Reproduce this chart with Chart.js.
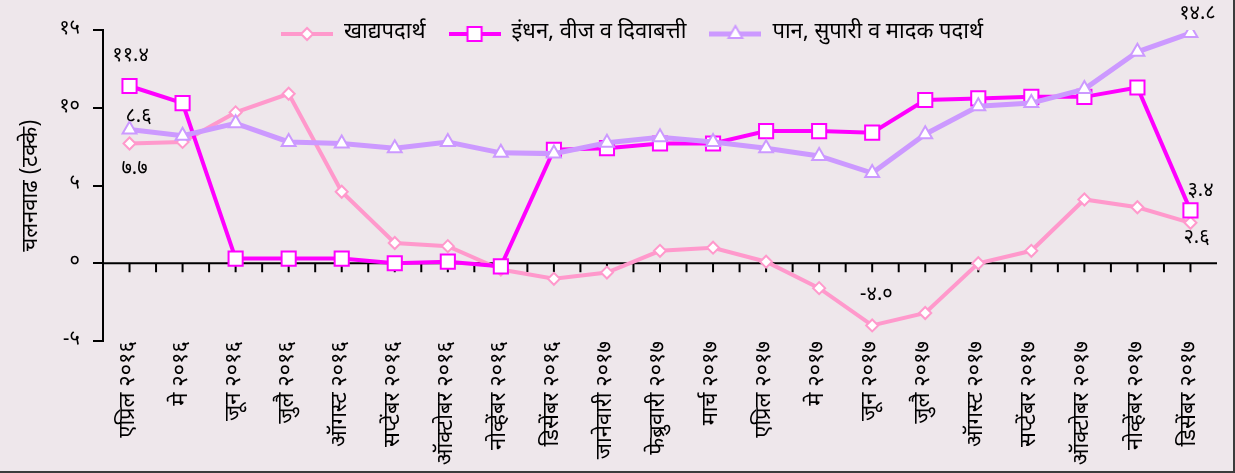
<!DOCTYPE html>
<html>
<head>
<meta charset="utf-8">
<script src="https://cdn.jsdelivr.net/npm/chart.js@4.4.0/dist/chart.umd.min.js"></script>
<style>
  html, body { margin: 0; padding: 0; background: #eee7eb; }
  #wrap { width: 1233px; height: 471px; border-right: 2px solid #3c3c3c; border-bottom: 2px solid #3c3c3c; }
</style>
</head>
<body>
<div id="wrap"><canvas id="my-chart" width="1233" height="471"></canvas></div>
<script>
// months on the x axis
var months = [
  'एप्रिल २०१६', 'मे २०१६', 'जून २०१६', 'जुलै २०१६', 'ऑगस्ट २०१६', 'सप्टेंबर २०१६',
  'ऑक्टोबर २०१६', 'नोव्हेंबर २०१६', 'डिसेंबर २०१६', 'जानेवारी २०१७', 'फेब्रुवारी २०१७',
  'मार्च २०१७', 'एप्रिल २०१७', 'मे २०१७', 'जून २०१७', 'जुलै २०१७', 'ऑगस्ट २०१७',
  'सप्टेंबर २०१७', 'ऑक्टोबर २०१७', 'नोव्हेंबर २०१७', 'डिसेंबर २०१७'
];
var seriesNames = ['खाद्यपदार्थ', 'इंधन, वीज व दिवाबत्ती', 'पान, सुपारी व मादक पदार्थ'];
var food = [7.7, 7.8, 9.7, 10.9, 4.6, 1.3, 1.1, -0.4, -1.0, -0.6, 0.8, 1.0, 0.1, -1.6, -4.0, -3.2, 0.0, 0.8, 4.1, 3.6, 2.6];
var fuel = [11.4, 10.3, 0.3, 0.3, 0.3, 0.0, 0.1, -0.2, 7.3, 7.4, 7.7, 7.7, 8.5, 8.5, 8.4, 10.5, 10.6, 10.7, 10.7, 11.3, 3.4];
var pan = [8.6, 8.2, 9.0, 7.8, 7.7, 7.4, 7.8, 7.1, 7.05, 7.75, 8.1, 7.8, 7.4, 6.9, 5.8, 8.3, 10.1, 10.3, 11.2, 13.6, 14.8];
var yMin = -5, yMax = 15, yStep = 5;
var yTitle = 'चलनवाढ (टक्के)';

// which points get a value written next to them
var noteSeries = [1, 2, 0, 0, 2, 1, 0];
var noteIndex = [0, 0, 0, 14, 20, 20, 20];
var noteDx = [1, 9, 5, 4, 7, 10, 6];
var noteDy = [-29, -11, 27, -29, -18, -18, 16];

var colors = ['#ff99cc', '#ff00ff', '#cc99ff'];
var devFont = "'Noto Sans Devanagari', 'Lohit Devanagari', 'Noto Serif Devanagari', 'Noto Sans', sans-serif";

function toDev(s) {
  var d = '०१२३४५६७८९';
  return String(s).replace(/[0-9]/g, function (c) { return d[+c]; });
}

// little line + marker picture for the legend
function legendIcon(color, width, style, radius) {
  var c = document.createElement('canvas');
  c.width = 52; c.height = 20;
  var g = c.getContext('2d');
  g.strokeStyle = color; g.lineWidth = width;
  g.beginPath(); g.moveTo(0, 10); g.lineTo(52, 10); g.stroke();
  g.fillStyle = '#fff'; g.lineWidth = 2;
  Chart.helpers.drawPoint(g, {pointStyle: style, radius: radius, borderWidth: 2, rotation: 0}, 26, 10);
  return c;
}
var icons = [
  legendIcon(colors[0], 4, 'rectRot', 6),
  legendIcon(colors[1], 4, 'rect', 10),
  legendIcon(colors[2], 5, 'triangle', 8)
];

var zeroAxis = {
  id: 'zeroAxis',
  beforeDatasetsDraw: function (chart) {
    var ctx = chart.ctx, xs = chart.scales.x, ys = chart.scales.y;
    var y0 = ys.getPixelForValue(0);
    ctx.save();
    ctx.strokeStyle = '#000';
    ctx.lineWidth = 2;
    ctx.beginPath();
    ctx.moveTo(chart.chartArea.left, y0);
    ctx.lineTo(chart.chartArea.right, y0);
    for (var i = 0; i < months.length; i++) {
      var px = xs.getPixelForValue(i);
      ctx.moveTo(px, y0); ctx.lineTo(px, y0 + 9);
      if (i < months.length - 1) {
        var mid = (px + xs.getPixelForValue(i + 1)) / 2;
        ctx.moveTo(mid, y0); ctx.lineTo(mid, y0 + 9);
      }
    }
    ctx.stroke();
    ctx.restore();
  }
};

var valueNotes = {
  id: 'valueNotes',
  afterDatasetsDraw: function (chart) {
    var ctx = chart.ctx;
    ctx.save();
    ctx.font = '20px ' + devFont;
    ctx.fillStyle = '#000';
    ctx.textAlign = 'center';
    ctx.textBaseline = 'middle';
    for (var k = 0; k < noteSeries.length; k++) {
      var ds = chart.data.datasets[noteSeries[k]];
      var pt = chart.getDatasetMeta(noteSeries[k]).data[noteIndex[k]];
      var v = ds.data[noteIndex[k]];
      ctx.fillText(toDev(v.toFixed(1)), pt.x + noteDx[k], pt.y + noteDy[k]);
    }
    ctx.restore();
  }
};

// center the legend row a little right of the canvas middle, and let it
// hang down into the plot without being clipped
var legendMove = {
  id: 'legendMove',
  beforeDraw: function (chart) {
    var lg = chart.legend;
    if (!lg) return;
    var w = lg.right - lg.left;
    lg.left = 632 - w / 2;
    lg.right = lg.left + w;
    lg.bottom = lg.top + 55;
  }
};

var ctx = document.getElementById('my-chart');
var chart = new Chart(ctx, {
  type: 'line',
  data: {
    labels: months,
    datasets: [
      {
        label: seriesNames[0], data: food, order: 3,
        borderColor: colors[0], borderWidth: 4, backgroundColor: '#fff',
        pointStyle: 'rectRot', pointRadius: 6, pointBorderWidth: 2,
        pointBorderColor: colors[0], pointBackgroundColor: '#fff'
      },
      {
        label: seriesNames[1], data: fuel, order: 2,
        borderColor: colors[1], borderWidth: 4, backgroundColor: '#fff',
        pointStyle: 'rect', pointRadius: 10, pointBorderWidth: 2,
        pointBorderColor: colors[1], pointBackgroundColor: '#fff'
      },
      {
        label: seriesNames[2], data: pan, order: 1,
        borderColor: colors[2], borderWidth: 5, backgroundColor: '#fff',
        pointStyle: 'triangle', pointRadius: 8, pointBorderWidth: 2,
        pointBorderColor: colors[2], pointBackgroundColor: '#fff'
      }
    ]
  },
  options: {
    responsive: false,
    animation: false,
    layout: { padding: { top: 0, right: 16, left: 0, bottom: 0 } },
    plugins: {
      tooltip: { enabled: false },
      legend: {
        position: 'top',
        align: 'center',
        maxHeight: 30,
        labels: {
          usePointStyle: true,
          pointStyleWidth: 52,
          padding: 23,
          color: '#000',
          font: { family: devFont, size: 22 },
          generateLabels: function (chart) {
            return chart.data.datasets.map(function (ds, i) {
              return {
                text: ds.label, pointStyle: icons[i], datasetIndex: i,
                fontColor: '#000', hidden: false, lineWidth: 0,
                strokeStyle: 'rgba(0,0,0,0)', fillStyle: 'rgba(0,0,0,0)'
              };
            });
          }
        }
      }
    },
    scales: {
      x: {
        offset: true,
        grid: { display: false, drawTicks: false },
        border: { display: false },
        ticks: {
          autoSkip: false, maxRotation: 90, minRotation: 90, padding: 0,
          color: '#000', font: { family: devFont, size: 22 }
        },
        afterFit: function (s) { s.height = 130; }
      },
      y: {
        min: yMin, max: yMax,
        grid: { drawOnChartArea: false, drawTicks: true, tickLength: 10, color: '#000', lineWidth: 2 },
        border: { display: true, color: '#000', width: 2 },
        ticks: {
          stepSize: yStep, padding: 13, color: '#000',
          font: { family: devFont, size: 20 },
          callback: function (v) { return toDev(v); }
        },
        title: {
          display: true, text: yTitle, color: '#000',
          font: { family: devFont, size: 22 }, padding: { top: 20, bottom: 0 }
        },
        afterFit: function (s) { s.width = 103; }
      }
    }
  },
  plugins: [zeroAxis, valueNotes, legendMove]
});
</script>
</body>
</html>
